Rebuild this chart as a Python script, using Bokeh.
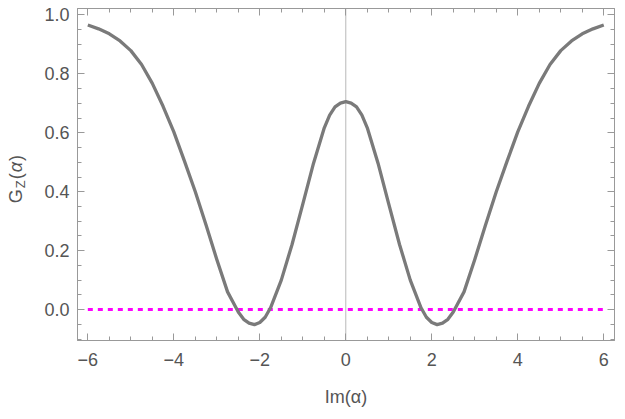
from bokeh.plotting import figure
from bokeh.models import (Span, LinearAxis, SingleIntervalTicker, Div,
                          CustomJSTickFormatter, Range1d, ColumnDataSource)
from bokeh.layouts import row
from bokeh.embed import file_html
from bokeh.resources import INLINE

# ---- data (curve is symmetric about 0) ----
half_im_alpha = [0, 0.125, 0.25, 0.375, 0.5, 0.75, 1.0, 1.25, 1.5, 1.75, 1.875,
                 2.0, 2.125, 2.25, 2.375, 2.5, 2.75, 3.0, 3.25, 3.5, 3.75, 4.0,
                 4.25, 4.5, 4.75, 5.0, 5.25, 5.5, 5.75, 6.0]
half_gz = [0.706, 0.701, 0.688, 0.660, 0.617, 0.497, 0.358, 0.221, 0.100, 0.006,
           -0.026, -0.044, -0.051, -0.046, -0.033, -0.008, 0.060, 0.170, 0.287,
           0.400, 0.503, 0.603, 0.690, 0.768, 0.832, 0.879, 0.912, 0.936, 0.953,
           0.966]
im_alpha = [-v for v in half_im_alpha[:0:-1]] + half_im_alpha
gz = half_gz[:0:-1] + half_gz

zero_x = [-6, 6]
zero_y = [0, 0]

x_ticks = [-6, -4, -2, 0, 2, 4, 6]
x_tick_labels = ["\u22126", "\u22124", "\u22122", "0", "2", "4", "6"]
y_ticks = [0.0, 0.2, 0.4, 0.6, 0.8, 1.0]
y_tick_labels = ["0.0", "0.2", "0.4", "0.6", "0.8", "1.0"]

X0, X1 = -6.24, 6.25
Y0, Y1 = -0.105, 1.022
W, H = 625, 419
DIVW = 30
BL, BR, BT, BB = 77 - DIVW, 11, 8, 79

FRAME = "#999999"
TXT = "#555555"
FONT = "Liberation Sans"

p = figure(width=W - DIVW, height=H, x_range=Range1d(X0, X1),
           y_range=Range1d(Y0, Y1), output_backend="svg",
           toolbar_location=None, min_border_left=BL, min_border_right=BR,
           min_border_top=BT, min_border_bottom=BB,
           x_axis_type=None, y_axis_type=None, margin=0)
p.grid.visible = False
p.outline_line_color = FRAME
p.background_fill_color = "white"
p.border_fill_color = "white"

blank = CustomJSTickFormatter(code="return '';")

def style_axis(ax, interval, labels):
    ax.ticker = SingleIntervalTicker(interval=interval, num_minor_ticks=4)
    ax.axis_line_color = FRAME
    ax.major_tick_line_color = FRAME
    ax.minor_tick_line_color = FRAME
    ax.major_tick_in = 7
    ax.major_tick_out = 0
    ax.minor_tick_in = 4
    ax.minor_tick_out = 0
    if labels is None:
        ax.formatter = blank
        ax.major_label_standoff = 0
    else:
        ax.major_label_overrides = labels
        ax.major_label_text_font = FONT
        ax.major_label_text_font_size = "18px"
        ax.major_label_text_color = TXT

bottom = LinearAxis()
style_axis(bottom, 2, {t: l for t, l in zip(x_ticks, x_tick_labels)})
bottom.major_label_standoff = 12
bottom.axis_label = "Im(\u03b1)"
bottom.axis_label_text_font = FONT
bottom.axis_label_text_font_size = "18px"
bottom.axis_label_text_font_style = "normal"
bottom.axis_label_text_color = TXT
bottom.axis_label_standoff = 18
top = LinearAxis()
style_axis(top, 2, None)
left = LinearAxis()
style_axis(left, 0.2, {t: l for t, l in zip(y_ticks, y_tick_labels)})
left.major_label_standoff = 8
right = LinearAxis()
style_axis(right, 0.2, None)
p.add_layout(bottom, "below")
p.add_layout(top, "above")
p.add_layout(left, "left")
p.add_layout(right, "right")

p.add_layout(Span(location=0, dimension="height", line_color="#b8b8b8",
                  line_width=1, level="underlay"))

p.line(zero_x, zero_y, line_color="#ff00ff", line_width=3, line_dash="5 5")
src = ColumnDataSource(dict(x=im_alpha, y=gz))
p.line("x", "y", source=src, line_color="#7a7a7a", line_width=3.3,
       line_join="round")

# y axis label G_Z(α), rotated to read bottom-to-top
ylab_html = (
    '<div style="position:relative;width:%dpx;height:%dpx;">'
    '<div style="position:absolute;left:7px;bottom:216px;'
    'writing-mode:vertical-rl;transform:rotate(180deg);'
    "font-family:'Liberation Sans';font-size:18px;line-height:18px;"
    'color:%s;white-space:nowrap;letter-spacing:1px;">'
    'G<sub style="font-size:13px;">Z</sub>(<i>\u03b1</i>)</div></div>'
) % (DIVW, H, TXT)
ylab = Div(text=ylab_html, width=DIVW, height=H, margin=0)

layout = row(ylab, p, spacing=0, margin=0)
open("out.html", "w").write(file_html(layout, INLINE))
